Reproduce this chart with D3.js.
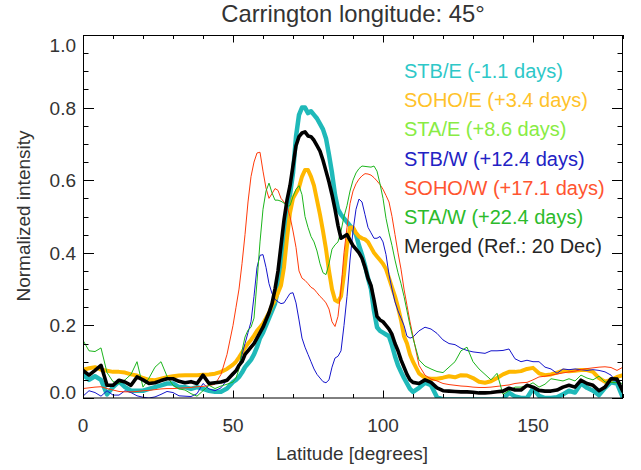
<!DOCTYPE html>
<html>
<head>
<meta charset="utf-8">
<script src="https://cdn.jsdelivr.net/npm/d3@7"></script>
<style>
  html, body { margin: 0; padding: 0; background: #ffffff; }
  svg { display: block; font-family: "Liberation Sans", Arial, Helvetica, sans-serif; }
</style>
</head>
<body>
<svg id="chart" width="641" height="470"></svg>
<script>
// ---------------- data ----------------
const latitude = [
  0,2,4,6,8,10,12,14,16,18,20,22,24,26,28,30,32,34,36,38,40,42,44,46,48,50,
  51,52,53,54,55,56,57,58,59,60,61,62,63,64,65,66,67,68,69,70,
  71,72,73,74,75,76,77,78,79,80,81,82,83,84,85,86,87,88,89,90,
  91,92,93,94,95,96,97,98,99,100,101,102,103,104,105,106,107,108,109,110,
  112,114,116,118,120,122,124,126,128,130,132,134,136,138,140,
  142,144,146,148,150,152,154,156,158,160,162,164,166,168,170,172,174,176,178,180
];

// STB/E (-1.1 days)
const stbE = [
  0.065,0.05,0.06,0.05,0.01,0.03,0.045,0.03,0.02,0.02,0.02,0.025,0.03,0.035,0.04,0.04,0.03,0.03,0.025,0.03,0.025,0.02,0.017,0.017,0.026,0.044,
  0.05,0.058,0.07,0.085,0.095,0.105,0.12,0.14,0.165,0.18,0.2,0.22,0.24,0.26,0.30,0.36,0.43,0.50,0.56,0.62,
  0.72,0.78,0.80,0.80,0.785,0.79,0.78,0.77,0.755,0.74,0.715,0.67,0.62,0.56,0.52,0.505,0.495,0.485,0.475,0.465,
  0.45,0.42,0.395,0.365,0.33,0.30,0.24,0.195,0.185,0.18,0.175,0.17,0.145,0.115,0.09,0.072,0.055,0.04,0.025,0.017,
  0.028,0.042,0.035,0.002,-0.004,-0.004,-0.004,-0.004,-0.004,-0.004,-0.004,-0.004,-0.004,-0.004,-0.004,
  0.015,0.004,0.0,0.0,0.026,0.006,0.0,0.0,0.002,0.01,0.02,0.015,0.04,0.028,0.02,0.008,0.028,0.043,0.04,0.0
];

// SOHO/E (+3.4 days)
const sohoE = [
  0.078,0.082,0.085,0.078,0.075,0.072,0.072,0.07,0.065,0.062,0.055,0.05,0.049,0.053,0.057,0.06,0.062,0.063,0.063,0.063,0.064,0.065,0.067,0.072,0.08,0.092,
  0.1,0.112,0.125,0.138,0.15,0.16,0.172,0.185,0.195,0.205,0.22,0.235,0.255,0.27,0.29,0.31,0.36,0.44,0.51,0.55,
  0.565,0.58,0.61,0.628,0.628,0.61,0.585,0.545,0.505,0.46,0.41,0.35,0.30,0.27,0.265,0.28,0.34,0.42,0.47,0.47,
  0.455,0.445,0.44,0.437,0.43,0.415,0.40,0.39,0.38,0.37,0.355,0.33,0.305,0.28,0.25,0.215,0.17,0.15,0.12,0.1,
  0.068,0.055,0.053,0.053,0.056,0.06,0.057,0.063,0.062,0.055,0.045,0.042,0.046,0.055,0.065,
  0.072,0.072,0.074,0.08,0.083,0.068,0.063,0.065,0.07,0.075,0.074,0.075,0.077,0.077,0.072,0.055,0.045,0.05,0.058,0.063
];

// STB/W (+12.4 days)
const stbW = [
  0.005,0.02,0.015,0.005,0.02,0.008,0.008,0.02,0.015,0.006,0.002,0.0,0.003,0.01,0.018,0.015,0.006,0.005,0.004,0.012,0.04,0.025,0.02,0.028,0.05,0.062,
  0.07,0.09,0.12,0.15,0.18,0.21,0.28,0.36,0.393,0.395,0.36,0.315,0.288,0.272,0.265,0.26,0.262,0.275,0.288,0.29,
  0.262,0.215,0.165,0.14,0.12,0.1,0.08,0.065,0.055,0.045,0.042,0.05,0.085,0.11,0.115,0.13,0.2,0.28,0.38,0.46,
  0.52,0.548,0.54,0.505,0.47,0.455,0.44,0.44,0.445,0.43,0.395,0.34,0.3,0.265,0.24,0.22,0.2,0.17,0.165,0.168,
  0.185,0.195,0.19,0.178,0.16,0.15,0.147,0.137,0.131,0.127,0.125,0.123,0.13,0.13,0.131,
  0.135,0.108,0.1,0.104,0.1,0.1,0.085,0.08,0.068,0.08,0.078,0.08,0.078,0.076,0.078,0.076,0.072,0.063,0.042,0.02
];

// SOHO/W (+17.1 days)
const sohoW = [
  0.026,0.028,0.03,0.031,0.026,0.022,0.018,0.017,0.017,0.018,0.02,0.021,0.023,0.025,0.026,0.026,0.027,0.028,0.029,0.031,0.032,0.034,0.038,0.065,0.12,0.2,
  0.25,0.3,0.37,0.45,0.54,0.61,0.65,0.675,0.677,0.625,0.578,0.55,0.563,0.577,0.572,0.55,0.54,0.527,0.5,0.46,
  0.415,0.35,0.33,0.324,0.315,0.305,0.3,0.29,0.28,0.272,0.262,0.245,0.21,0.197,0.225,0.3,0.4,0.47,0.535,0.57,
  0.59,0.603,0.612,0.618,0.617,0.614,0.607,0.598,0.588,0.575,0.558,0.54,0.5,0.45,0.4,0.355,0.3,0.255,0.21,0.17,
  0.09,0.063,0.052,0.047,0.04,0.037,0.035,0.033,0.032,0.03,0.029,0.029,0.03,0.032,0.034,
  0.036,0.04,0.042,0.043,0.05,0.058,0.06,0.063,0.066,0.069,0.072,0.074,0.078,0.081,0.083,0.085,0.086,0.084,0.076,0.085
];

// STA/W (+22.4 days)
const staW = [
  0.159,0.13,0.128,0.138,0.07,0.045,0.04,0.05,0.065,0.1,0.03,0.055,0.085,0.1,0.06,0.035,0.025,0.022,0.012,0.005,0.02,0.035,0.026,0.033,0.038,0.044,
  0.055,0.08,0.13,0.168,0.187,0.195,0.22,0.32,0.43,0.52,0.57,0.592,0.565,0.545,0.545,0.542,0.537,0.528,0.53,0.555,
  0.575,0.585,0.56,0.5,0.47,0.445,0.43,0.405,0.37,0.345,0.34,0.37,0.41,0.422,0.43,0.46,0.5,0.53,0.57,0.6,
  0.62,0.632,0.639,0.638,0.637,0.636,0.639,0.625,0.59,0.55,0.495,0.455,0.42,0.38,0.345,0.315,0.28,0.24,0.2,0.165,
  0.105,0.088,0.08,0.073,0.07,0.085,0.1,0.13,0.14,0.1,0.08,0.065,0.05,0.068,0.01,
  0.02,0.03,0.03,0.033,0.042,0.03,0.038,0.053,0.05,0.047,0.053,0.047,0.063,0.055,0.05,0.06,0.044,0.043,0.042,0.04
];

// Merged (Ref.: 20 Dec)
const merged = [
  0.076,0.063,0.076,0.09,0.035,0.035,0.049,0.044,0.035,0.058,0.05,0.04,0.042,0.048,0.053,0.053,0.046,0.042,0.045,0.04,0.063,0.04,0.042,0.044,0.049,0.067,
  0.075,0.09,0.1,0.12,0.13,0.14,0.15,0.165,0.18,0.195,0.215,0.235,0.26,0.30,0.35,0.42,0.49,0.545,0.585,0.64,
  0.695,0.72,0.73,0.733,0.722,0.72,0.71,0.695,0.68,0.655,0.625,0.595,0.56,0.52,0.475,0.44,0.445,0.45,0.435,0.42,
  0.41,0.40,0.385,0.36,0.33,0.31,0.27,0.225,0.215,0.21,0.2,0.19,0.175,0.15,0.13,0.105,0.085,0.065,0.05,0.043,
  0.04,0.05,0.043,0.028,0.02,0.019,0.018,0.017,0.017,0.016,0.014,0.014,0.015,0.017,0.019,
  0.027,0.022,0.022,0.035,0.03,0.021,0.019,0.019,0.022,0.03,0.035,0.03,0.049,0.04,0.035,0.02,0.03,0.053,0.052,0.017
];

const legendLabels = [
  "STB/E (-1.1 days)", "SOHO/E (+3.4 days)", "STA/E (+8.6 days)", "STB/W (+12.4 days)",
  "SOHO/W (+17.1 days)", "STA/W (+22.4 days)", "Merged (Ref.: 20 Dec)"
];
const xTickValues = [0, 50, 100, 150];
const yTickValues = [0.0, 0.2, 0.4, 0.6, 0.8, 1.0];
const titleText = "Carrington longitude: 45\u00B0";
const xLabelText = "Latitude [degrees]";
const yLabelText = "Normalized intensity";

// ---------------- styles ----------------
const legendColors = ["#2ec8c8", "#ffc22a", "#88ec44", "#2222c4", "#ff5530", "#2cbb2c", "#262626"];
const seriesDefs = [
  { values: stbE,  color: "#1fb9b9", width: 4.5 },
  { values: sohoE, color: "#ffb800", width: 4 },
  { values: stbW,  color: "#1515cc", width: 1 },
  { values: sohoW, color: "#ff3a0a", width: 1 },
  { values: staW,  color: "#1cb51c", width: 1 },
  { values: merged, color: "#000000", width: 3.6 }
];

// ---------------- chart ----------------
const svg = d3.select("#chart");
const pLeft = 83, pRight = 623, pTop = 35, pBottom = 398;
const x = d3.scaleLinear().domain([0, 180]).range([pLeft, pRight]);
const y = d3.scaleLinear().domain([0, 1]).range([pBottom, pTop]);
const textColor = "#333333";
const fontSize = 19;

svg.append("defs").append("clipPath").attr("id", "plotclip")
  .append("rect").attr("x", pLeft).attr("y", pTop).attr("width", pRight - pLeft).attr("height", pBottom - pTop);

const plot = svg.append("g").attr("clip-path", "url(#plotclip)");
const lineGen = vals => d3.line()
  .x((d, i) => x(latitude[i]))
  .y(d => y(d))(vals);

seriesDefs.forEach(s => {
  plot.append("path")
    .attr("d", lineGen(s.values))
    .attr("fill", "none")
    .attr("stroke", s.color)
    .attr("stroke-width", s.width)
    .attr("stroke-linejoin", "round")
    .attr("stroke-linecap", "round");
});

// frame & ticks
const axisG = svg.append("g").attr("stroke", "#000").attr("stroke-width", 1).attr("fill", "none");
axisG.append("rect").attr("x", pLeft + 0.5).attr("y", pTop + 0.5)
  .attr("width", pRight - pLeft - 1).attr("height", pBottom - pTop - 0.5);

const xMinor = d3.range(0, 181, 10);
xMinor.forEach(v => {
  const major = v % 50 === 0;
  const len = major ? 7.5 : 4;
  const px = Math.round(x(v)) + 0.5;
  axisG.append("line").attr("x1", px).attr("x2", px).attr("y1", pBottom).attr("y2", pBottom - len);
  axisG.append("line").attr("x1", px).attr("x2", px).attr("y1", pTop).attr("y2", pTop + len);
});
const yMinor = d3.range(0, 21).map(k => k * 0.05);
yMinor.forEach((v, k) => {
  const major = k % 4 === 0;
  const len = major ? 11 : 5.5;
  const py = Math.round(y(v)) + 0.5;
  axisG.append("line").attr("x1", pLeft).attr("x2", pLeft + len).attr("y1", py).attr("y2", py);
  axisG.append("line").attr("x1", pRight).attr("x2", pRight - len).attr("y1", py).attr("y2", py);
});

// tick labels
svg.append("g").selectAll("text").data(xTickValues).join("text")
  .attr("x", d => x(d)).attr("y", 432)
  .attr("text-anchor", "middle")
  .attr("font-size", fontSize).attr("fill", textColor)
  .text(d => d3.format("d")(d));

svg.append("g").selectAll("text").data(yTickValues).join("text")
  .attr("x", pLeft - 7)
  .attr("y", d => {
    let c = y(d);
    if (d === 1.0) c = 45;
    if (d === 0.0) c = 392;
    return c + 7;
  })
  .attr("text-anchor", "end")
  .attr("font-size", fontSize).attr("fill", textColor)
  .text(d => d3.format(".1f")(d));

// title and axis labels
svg.append("text").attr("x", 353).attr("y", 22).attr("text-anchor", "middle")
  .attr("font-size", 23.8).attr("fill", textColor).text(titleText);
svg.append("text").attr("x", 352).attr("y", 460).attr("text-anchor", "middle")
  .attr("font-size", fontSize).attr("fill", textColor).text(xLabelText);
svg.append("text").attr("transform", "translate(30,216) rotate(-90)")
  .attr("text-anchor", "middle")
  .attr("font-size", fontSize).attr("fill", textColor).text(yLabelText);

// legend
svg.append("g").selectAll("text").data(legendLabels).join("text")
  .attr("x", 404)
  .attr("y", (d, i) => 78 + i * 29.2)
  .attr("font-size", 20)
  .attr("fill", (d, i) => legendColors[i])
  .text(d => d);
</script>
</body>
</html>
